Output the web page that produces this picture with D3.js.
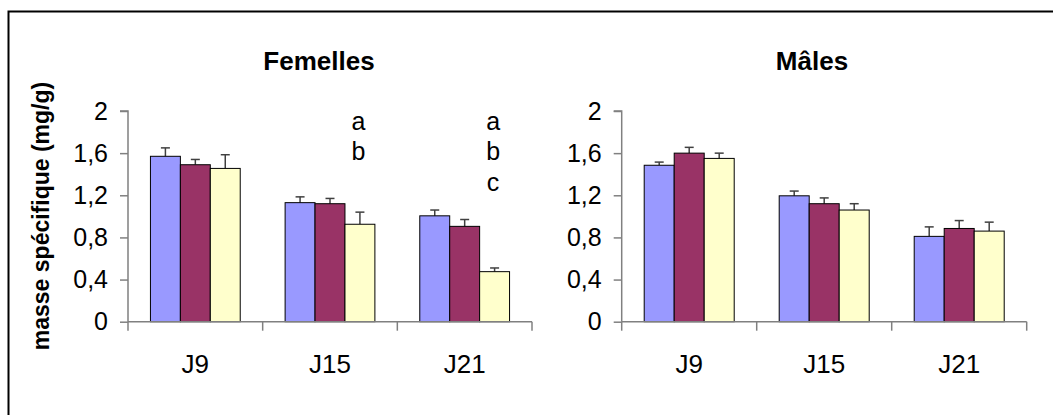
<!DOCTYPE html>
<html>
<head>
<meta charset="utf-8">
<script src="https://cdn.jsdelivr.net/npm/d3@7"></script>
<style>
  html, body { margin: 0; padding: 0; background: #fff; }
  svg { display: block; }
  text { font-family: "Liberation Sans", Arial, sans-serif; fill: #000; }
</style>
</head>
<body>
<script>
// ---- data ----
const categories = ["J9", "J15", "J21"];
const seriesColors = ["#9999FF", "#993366", "#FFFFCC"];
const femellesMeans  = [[1.57, 1.49, 1.455], [1.13, 1.12, 0.925], [1.005, 0.905, 0.475]];
const femellesErrors = [[0.08, 0.05, 0.13], [0.055, 0.05, 0.115], [0.055, 0.065, 0.035]];
const malesMeans     = [[1.485, 1.60, 1.55], [1.195, 1.12, 1.06], [0.81, 0.885, 0.86]];
const malesErrors    = [[0.03, 0.055, 0.05], [0.045, 0.055, 0.06], [0.09, 0.075, 0.085]];
const femellesLetters = [[], ["a", "b"], ["a", "b", "c"]];
const malesLetters    = [[], [], []];
const yTicks = [0, 0.4, 0.8, 1.2, 1.6, 2];
const yLabel = "masse spécifique (mg/g)";

const W = 1053, H = 415;
const svg = d3.select("body").append("svg").attr("width", W).attr("height", H);

// outer frame (extends past the right and bottom edges)
svg.append("rect").attr("x", 8.5).attr("y", 11.5).attr("width", 1200).attr("height", 600)
  .attr("fill", "none").attr("stroke", "#000").attr("stroke-width", 2);

const y = d3.scaleLinear().domain([0, 2]).range([321.7, 111]);

function panel(title, means, errors, letters, x0, x1, titleX) {
  const g = svg.append("g");
  const x = d3.scaleBand().domain(categories).range([x0, x1]).paddingInner(0).paddingOuter(0);
  const xs = d3.scaleBand().domain([0, 1, 2]).range([0, x.bandwidth()]).paddingInner(0).paddingOuter(0.75);

  // title
  g.append("text").attr("x", titleX).attr("y", 70).attr("text-anchor", "middle")
    .attr("font-size", 26).attr("font-weight", "bold").text(title);

  // y axis
  const ya = g.append("g").attr("transform", `translate(${x0},0)`)
    .call(d3.axisLeft(y).tickValues(yTicks).tickSize(8).tickPadding(12)
      .tickFormat(d => String(d).replace(".", ",")));
  ya.select(".domain").attr("stroke", "#808080").attr("stroke-width", 1.5).attr("d", `M-8,${y(2)}H0V${y(0)}`);
  ya.selectAll(".tick line").attr("stroke", "#808080").attr("stroke-width", 1.5);
  ya.selectAll(".tick text").attr("font-size", 25).attr("font-family", "Liberation Sans, Arial, sans-serif").attr("fill", "#000");

  // bars
  categories.forEach((c, ci) => {
    means[ci].forEach((v, si) => {
      const bx = x(c) + xs(si);
      const bw = xs.bandwidth();
      const cx = bx + bw / 2;
      const e = errors[ci][si];
      g.append("line").attr("x1", cx).attr("x2", cx).attr("y1", y(v)).attr("y2", y(v + e))
        .attr("stroke", "#404040").attr("stroke-width", 1.5);
      g.append("line").attr("x1", cx - 4.5).attr("x2", cx + 4.5).attr("y1", y(v + e)).attr("y2", y(v + e))
        .attr("stroke", "#404040").attr("stroke-width", 1.5);
      g.append("rect").attr("x", bx).attr("y", y(v)).attr("width", bw).attr("height", y(0) - y(v))
        .attr("fill", seriesColors[si]).attr("stroke", "#000").attr("stroke-width", 1);
    });
    // significance letters above the third bar
    const lx = x(c) + xs(2) + xs.bandwidth() / 2 - 1.5;
    letters[ci].forEach((t, li) => {
      g.append("text").attr("x", lx).attr("y", 130 + li * 30.3).attr("text-anchor", "middle")
        .attr("font-size", 25).text(t);
    });
  });

  // x axis
  const xa = g.append("g").attr("transform", `translate(0,${y(0)})`)
    .call(d3.axisBottom(x).tickSize(0).tickPadding(0));
  xa.select(".domain").attr("stroke", "#808080").attr("stroke-width", 1.5).attr("d", `M${x0},0H${x1}`);
  xa.selectAll(".tick text").attr("font-size", 26).attr("font-family", "Liberation Sans, Arial, sans-serif")
    .attr("fill", "#000").attr("dy", null).attr("y", 51.5);
  // boundary ticks
  const bounds = categories.map(c => x(c)).concat([x1]);
  xa.selectAll(".bound").data(bounds).enter().append("line").attr("class", "bound")
    .attr("x1", d => d).attr("x2", d => d).attr("y1", 0).attr("y2", 9)
    .attr("stroke", "#808080").attr("stroke-width", 1.5);
}

panel("Femelles", femellesMeans, femellesErrors, femellesLetters, 128, 532, 319);
panel("Mâles", malesMeans, malesErrors, malesLetters, 621.7, 1026.7, 812);

// y axis title
svg.append("text").attr("transform", "translate(49,216) rotate(-90)")
  .attr("text-anchor", "middle").attr("font-size", 23).attr("font-weight", "bold").text(yLabel);
</script>
</body>
</html>
